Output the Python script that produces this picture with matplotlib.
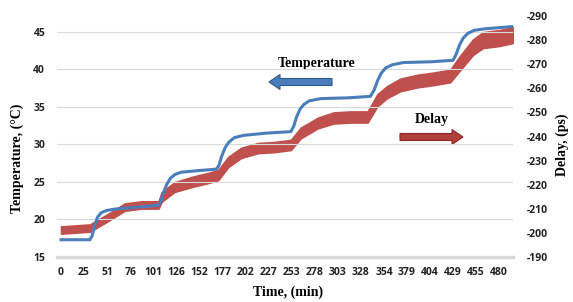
import matplotlib.pyplot as plt
from matplotlib.patches import FancyArrow

# temperature trace (blue, left axis): time [min], temperature [degC]
t_temp = [0, 31.6, 34, 37, 40, 44, 50, 60, 80, 106.9, 109, 112, 116, 120, 125,
          132, 150, 170.2, 173, 176, 180, 184, 190, 200, 225, 251.9, 255, 258,
          262, 266, 272, 285, 315, 339, 343, 347, 351, 356, 363, 375, 405,
          429.7, 433, 437, 441, 446, 453, 465, 495.2]
temp = [17.3, 17.3, 17.8, 19.2, 20.3, 20.9, 21.2, 21.4, 21.6, 21.9, 22.3, 23.5,
        24.7, 25.5, 26.0, 26.3, 26.5, 26.7, 27.2, 28.4, 29.6, 30.3, 30.9, 31.2,
        31.5, 31.7, 32.4, 33.6, 34.7, 35.3, 35.8, 36.1, 36.2, 36.4, 37.2, 38.5,
        39.5, 40.2, 40.6, 40.9, 41.0, 41.2, 42.0, 43.3, 44.2, 44.8, 45.2, 45.4,
        45.7]

# delay trace (red, right axis): time [min], noise band edges [ps]
t_delay = [0, 31.6, 52.4, 69.8, 88.3, 106.9, 110.2, 124.3, 142.9, 161.4, 172.3,
           183.2, 197.4, 216.0, 233.4, 251.9, 262.9, 273.8, 281.4, 298.9, 317.4,
           336.0, 346.8, 357.7, 371.9, 390.5, 407.9, 426.5, 437.4, 451.6, 462.5,
           481.0, 495.2]
delay_top = [-202.7, -203.5, -208.1, -212.2, -213.1, -213.1, -216.9, -221.0,
             -223.2, -224.9, -226.1, -231.5, -235.3, -237.3, -237.7, -238.6,
             -243.7, -246.1, -247.8, -250.0, -250.4, -250.4, -257.6, -261.0,
             -264.0, -265.6, -266.5, -267.7, -273.5, -280.3, -283.3, -284.2,
             -285.4]
delay_bot = [-199.7, -200.5, -205.1, -209.2, -210.1, -210.1, -212.9, -217.0,
             -219.0, -220.7, -221.9, -227.3, -231.1, -233.1, -233.5, -234.4,
             -239.3, -241.7, -243.4, -245.4, -245.8, -245.8, -252.6, -256.0,
             -258.8, -260.4, -261.3, -262.5, -267.5, -273.9, -276.7, -277.6,
             -278.8]

xticks = [0, 25, 51, 76, 101, 126, 152, 177, 202, 227, 253, 278, 303, 328,
          354, 379, 404, 429, 455, 480]
temp_ticks = [15, 20, 25, 30, 35, 40, 45]
delay_ticks = [-190, -200, -210, -220, -230, -240, -250, -260, -270, -280, -290]

blue = '#4a7ebb'
red = '#c0504d'
tick_font = dict(family='Open Sans', weight='bold', size=7.5)
serif = 'Liberation Serif'

fig = plt.figure(figsize=(5.73, 3.02), dpi=100)
ax = fig.add_axes([0.0995, 0.149, 0.796, 0.798])
ax2 = ax.twinx()

ax.plot(t_temp, temp, color=blue, lw=2.2, zorder=3)
ax2.fill_between(t_delay, delay_bot, delay_top, color=red, ec=red, lw=1.2, zorder=2)
ax.set_zorder(ax2.get_zorder() + 1)
ax.patch.set_visible(False)

ax.set_xlim(-4.4, 495.5)
ax.set_ylim(15, 47.1)
ax2.set_ylim(-190, -290)
ax.set_xticks(xticks)
ax.set_xticklabels([str(v) for v in xticks], **tick_font)
ax.set_yticks(temp_ticks)
ax.set_yticklabels([str(v) for v in temp_ticks], **tick_font)
ax2.set_yticks(delay_ticks)
ax2.set_yticklabels([str(v) for v in delay_ticks], **tick_font)
for a in (ax, ax2):
    a.tick_params(length=0, colors='#222222', pad=5)
    for s in a.spines.values():
        s.set_visible(False)
ax.tick_params(axis='x', pad=7)
ax.tick_params(axis='y', pad=8.5)
ax2.tick_params(axis='y', pad=10)
ax.spines['bottom'].set_visible(True)
ax.spines['bottom'].set_color('#d9d9d9')
ax.spines['bottom'].set_linewidth(2.5)
ax.grid(axis='y', color='#d9d9d9', lw=0.8)
ax.set_axisbelow(True)

fig.text(0.03, 0.477, 'Temperature, (\u00b0C)', rotation=90, ha='center', va='center',
         family=serif, weight='bold', size=10)
fig.text(0.982, 0.52, 'Delay, (ps)', rotation=90, ha='center', va='center',
         family=serif, weight='bold', size=10)
fig.text(0.503, 0.033, 'Time, (min)', ha='center', va='center',
         family=serif, weight='bold', size=10)

# overlay in pixel units for the annotations
ov = fig.add_axes([0, 0, 1, 1])
ov.set_xlim(0, 573)
ov.set_ylim(302, 0)
ov.axis('off')
ov.text(317, 63, 'Temperature', ha='center', va='center', family=serif,
        weight='bold', size=10)
ov.text(432, 119, 'Delay', ha='center', va='center', family=serif,
        weight='bold', size=10)
ov.add_patch(FancyArrow(332, 82, -63, 0, width=7, head_width=15, head_length=11,
                        length_includes_head=True, fc=blue, ec='#2f5a8f', lw=0.8))
ov.add_patch(FancyArrow(400, 137, 63, 0, width=7, head_width=15, head_length=11,
                        length_includes_head=True, fc='#b03e3b', ec='#8b2a28', lw=0.8))

fig.savefig('out.png', dpi=100)
